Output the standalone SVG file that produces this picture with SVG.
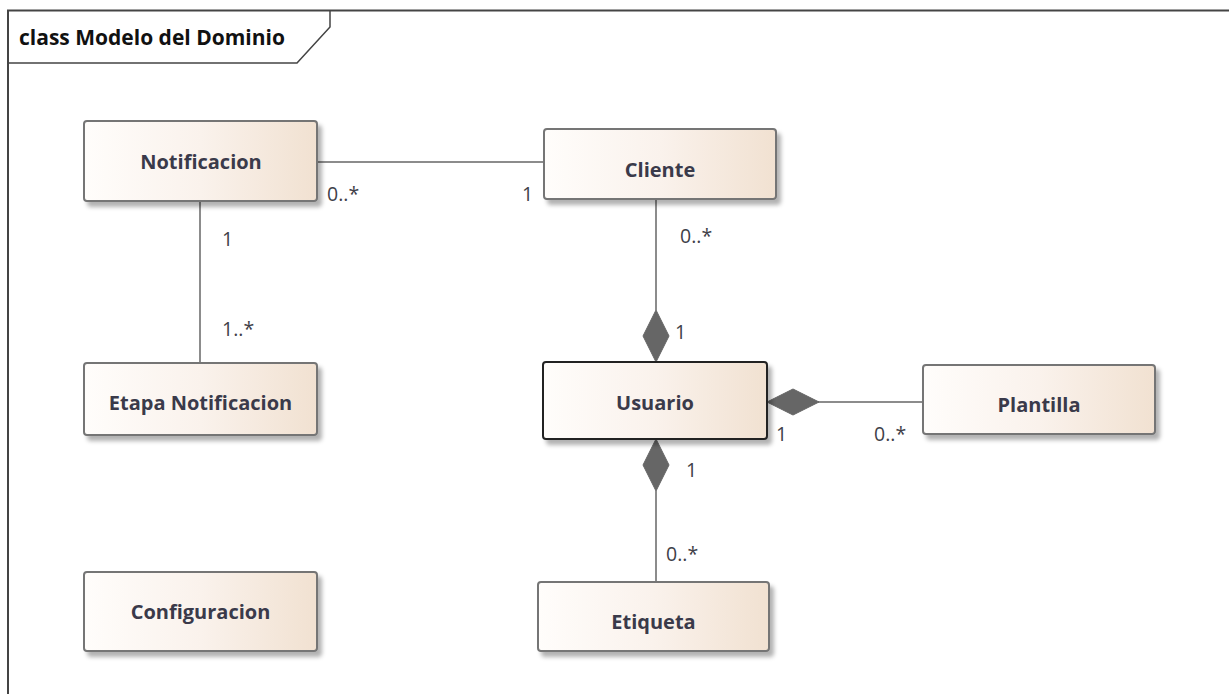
<svg xmlns="http://www.w3.org/2000/svg" width="1229" height="694" viewBox="0 0 1229 694">
<defs>
<linearGradient id="g" x1="0" y1="0" x2="1" y2="0">
<stop offset="0" stop-color="#fffdfb"/>
<stop offset="0.5" stop-color="#faf2ec"/>
<stop offset="1" stop-color="#f1e1d1"/>
</linearGradient>
<filter id="sh" x="-10%" y="-10%" width="130%" height="140%">
<feDropShadow dx="4" dy="5" stdDeviation="2" flood-color="#000" flood-opacity="0.3"/>
</filter>
<style>
.box{fill:url(#g);stroke:#757575;stroke-width:2;filter:url(#sh)}
.sel{stroke:#222}
.lbl{font-family:"Open Sans","Noto Sans",sans-serif;font-weight:bold;font-size:20px;fill:#3a3a4a;text-anchor:middle}
.m{font-family:"Open Sans","Noto Sans",sans-serif;font-size:19.5px;fill:#404048}
.ln{stroke:#666;stroke-width:1.5;fill:none}
.dia{fill:#666;stroke:#666}
</style>
</defs>
<rect width="1229" height="694" fill="#fff"/>
<g id="frame">
<path d="M8,694 V10.5 H1229" fill="none" stroke="#444" stroke-width="2"/>
<path d="M8,63 H297 L330,27 V10.5" fill="none" stroke="#444" stroke-width="1.5"/>
<text x="19" y="45" font-family="'Open Sans','Noto Sans',sans-serif" font-weight="bold" font-size="21" fill="#111">class Modelo del Dominio</text>
</g>
<g id="connectors">
<line class="ln" x1="317" y1="162" x2="544" y2="162"/>
<text class="m" x="327" y="201">0..*</text>
<text class="m" x="522" y="201">1</text>
<line class="ln" x1="200" y1="201" x2="200" y2="363"/>
<text class="m" x="222" y="246">1</text>
<text class="m" x="222" y="336">1..*</text>
<line class="ln" x1="656" y1="199" x2="656" y2="310"/>
<path class="dia" d="M656,310 L669,336 L656,362 L643,336 Z"/>
<text class="m" x="680" y="243">0..*</text>
<text class="m" x="675" y="339">1</text>
<line class="ln" x1="818" y1="402" x2="923" y2="402"/>
<path class="dia" d="M767,402 L793,389 L819,402 L793,415 Z"/>
<text class="m" x="776" y="441">1</text>
<text class="m" x="874" y="441">0..*</text>
<line class="ln" x1="656" y1="491" x2="656" y2="582"/>
<path class="dia" d="M656,439 L669,465 L656,491 L643,465 Z"/>
<text class="m" x="686" y="477">1</text>
<text class="m" x="666" y="561">0..*</text>
</g>
<g id="Notificacion">
<rect class="box" x="84" y="121" width="233" height="80" rx="3"/>
<text class="lbl" x="201" y="169">Notificacion</text>
</g>
<g id="Cliente">
<rect class="box" x="544" y="129" width="232" height="70" rx="3"/>
<text class="lbl" x="660" y="177">Cliente</text>
</g>
<g id="EtapaNotificacion">
<rect class="box" x="84" y="363" width="233" height="72" rx="3"/>
<text class="lbl" x="200.5" y="410">Etapa Notificacion</text>
</g>
<g id="Usuario">
<rect class="box sel" x="543" y="362" width="224" height="77" rx="3"/>
<text class="lbl" x="655" y="410">Usuario</text>
</g>
<g id="Plantilla">
<rect class="box" x="923" y="365" width="232" height="69" rx="3"/>
<text class="lbl" x="1039" y="412">Plantilla</text>
</g>
<g id="Configuracion">
<rect class="box" x="84" y="572" width="233" height="79" rx="3"/>
<text class="lbl" x="200.5" y="619">Configuracion</text>
</g>
<g id="Etiqueta">
<rect class="box" x="538" y="582" width="231" height="69" rx="3"/>
<text class="lbl" x="653.5" y="629">Etiqueta</text>
</g>
</svg>
